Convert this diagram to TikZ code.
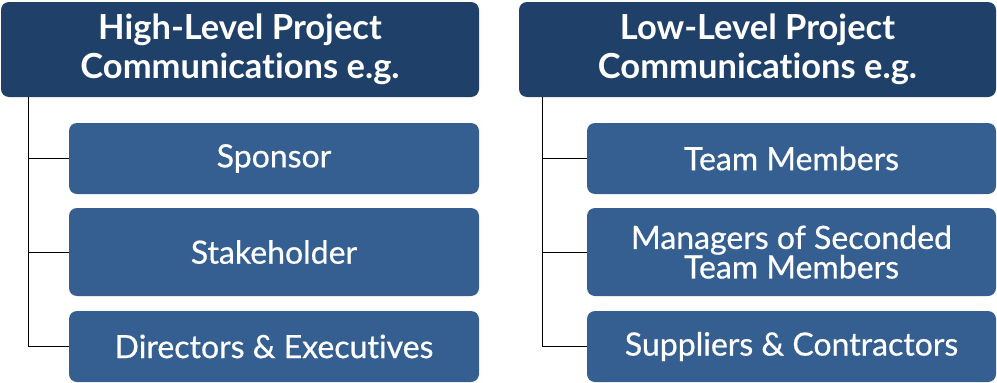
\documentclass[tikz,border=0pt]{standalone}
\usepackage{fontspec}
\setmainfont{Lato}[Ligatures=NoCommon]
\newfontface\childfont{Lato}[FakeBold=0.6,Ligatures=NoCommon]
\definecolor{headblue}{HTML}{1F4069}
\definecolor{childblue}{HTML}{365F91}
\begin{document}
\begin{tikzpicture}[x=1pt,y=-1pt,
  headbox/.style={fill=headblue,text=white,rounded corners=8pt,inner sep=0pt,
    minimum width=478pt,minimum height=95pt,align=center,
    font=\fontsize{34.5}{39}\selectfont\bfseries},
  childbox/.style={fill=childblue,text=white,rounded corners=8pt,inner sep=0pt,
    minimum width=410pt,align=center,
    font=\childfont\fontsize{32}{29.5}\selectfont},
  link/.style={draw=black,line width=0.9pt}]
\useasboundingbox (0,0) rectangle (997,383);
% left column
\node[headbox] (hl) at (240,49.5) {High-Level Project\\Communications e.g.};
\node[childbox,minimum height=71pt] (sp) at (274,158.5) {Sponsor};
\node[childbox,minimum height=88pt] (st) at (274,252) {Stakeholder};
\node[childbox,minimum height=71pt] (de) at (274,346.5) {Directors \& Executives};
% right column
\node[headbox,minimum width=477pt] (hr) at (757.5,49.5) {Low-Level Project\\Communications e.g.};
\node[childbox,minimum width=409pt,minimum height=71pt] (tm) at (791.5,158.5) {Team Members};
\node[childbox,minimum width=409pt,minimum height=88pt] (ms) at (791.5,252) {Managers of Seconded\\Team Members};
\node[childbox,minimum width=409pt,minimum height=71pt] (sc) at (791.5,346.5) {Suppliers \& Contractors};
% spines
\coordinate (lx) at (28,0);
\coordinate (rx) at (542,0);
\draw[link] (hl.south -| lx) |- (de.west);
\draw[link] (lx |- sp.west) -- (sp.west);
\draw[link] (lx |- st.west) -- (st.west);
\draw[link] (hr.south -| rx) |- (sc.west);
\draw[link] (rx |- tm.west) -- (tm.west);
\draw[link] (rx |- ms.west) -- (ms.west);
\end{tikzpicture}
\end{document}
